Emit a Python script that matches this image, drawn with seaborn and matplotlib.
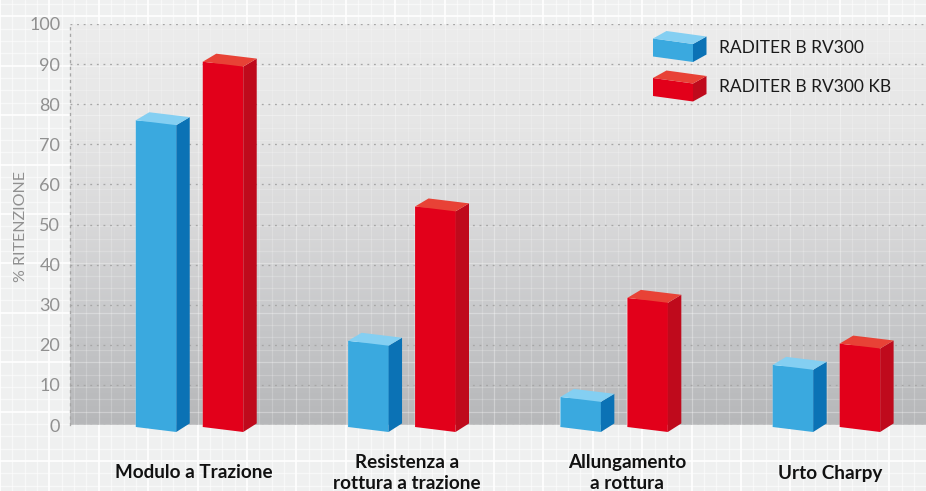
import numpy as np
import pandas as pd
import seaborn as sns
import matplotlib
matplotlib.use('Agg')
import matplotlib.pyplot as plt
from matplotlib.colors import LinearSegmentedColormap
from matplotlib.patches import Polygon

categorie = ['Modulo a Trazione', 'Resistenza a\nrottura a trazione', 'Allungamento\na rottura', 'Urto Charpy']
rv300 = [76, 21, 7, 15]
rv300_kb = [90.6, 54.5, 31.7, 20.3]
serie = ['RADITER B RV300', 'RADITER B RV300 KB']
y_ticks = list(range(0, 101, 10))
asse_y = '% RITENZIONE'

W, H = 926, 491
X0, Y0 = 70, 425      # pixel dell'origine
PX_CAT = 212.3        # pixel tra due categorie
PX_Y = 4.01           # pixel per unita' y
CAT0 = 189.5          # pixel della prima categoria

colori = {
    serie[0]: {'front': '#3aa9df', 'side': '#0b72b5', 'top': '#84cff2'},
    serie[1]: {'front': '#e2001a', 'side': '#bf0a1c', 'top': '#e84236'},
}

df = pd.DataFrame({
    'categoria': categorie * 2,
    'serie': [serie[0]] * 4 + [serie[1]] * 4,
    'valore': rv300 + rv300_kb,
})

sns.set_theme(style='white')
plt.rcParams['font.family'] = ['Lato', 'DejaVu Sans']

fig = plt.figure(figsize=(W / 100, H / 100), dpi=100)

# sfondo: griglia bianca fuori dal grafico, sfumatura grigia dentro
bg = fig.add_axes([0, 0, 1, 1], zorder=0)
bg.axis('off')
bg.add_patch(plt.Rectangle((0, 0), W, H, color='#eff0f0', lw=0))
grad = LinearSegmentedColormap.from_list(
    'grad', ['#ececec', '#e6e6e6', '#d8d8d9', '#c6c7c9', '#b6b7b9'])
img = bg.imshow(np.linspace(0, 1, 256).reshape(-1, 1), cmap=grad, aspect='auto',
                extent=[X0, W, Y0, 24], zorder=2)
bg.set_xlim(0, W)
bg.set_ylim(H, 0)
zona = plt.Rectangle((X0, 24), W - X0, Y0 - 24, transform=bg.transData, fc='none', ec='none')
bg.add_patch(zona)
griglia_x = np.arange(0, W, 12.35)
griglia_y = np.arange(4, H, 12.35)
for i, x in enumerate(griglia_x):
    forte = i % 4 == 0
    bg.axvline(x, color='white', lw=1.3 if forte else 0.9, alpha=0.9 if forte else 0.55, zorder=1)
    l = bg.axvline(x, color='white', lw=0.9, alpha=0.32 if forte else 0.2, zorder=3)
    l.set_clip_path(zona)
for i, y in enumerate(griglia_y):
    forte = i % 4 == 1
    bg.axhline(y, color='white', lw=1.3 if forte else 0.9, alpha=0.9 if forte else 0.55, zorder=1)
    l = bg.axhline(y, color='white', lw=0.9, alpha=0.32 if forte else 0.2, zorder=3)
    l.set_clip_path(zona)

# grafico
ax = fig.add_axes([X0 / W, (H - Y0) / H, (W - X0) / W, 401 / H], zorder=1)
ax.patch.set_alpha(0)
sns.barplot(data=df, x='categoria', y='valore', hue='serie', hue_order=serie,
            palette=[colori[s]['front'] for s in serie], order=categorie,
            width=0.631, gap=0.396, saturation=1, legend=False, ax=ax, zorder=3)
ax.set_xlim((X0 - CAT0) / PX_CAT, (W - CAT0) / PX_CAT)
ax.set_ylim(0, 100)

DX = 1 / PX_CAT
DY = 1 / PX_Y


def solido(patch, col):
    x0, x1 = patch.get_x(), patch.get_x() + patch.get_width()
    h = patch.get_height()
    lean = 4.9 * DY
    ox, oy = 13.5 * DX, 8 * DY
    facce = [
        ('front', [(x0, h), (x1, h - lean), (x1, -7 * DY), (x0, -2 * DY)]),
        ('side', [(x1, h - lean), (x1 + ox, h - lean + oy), (x1 + ox, 0.4), (x1, -7 * DY)]),
        ('top', [(x0, h), (x0 + ox, h + oy), (x1 + ox, h - lean + oy), (x1, h - lean)]),
    ]
    for nome, pts in facce:
        ax.add_patch(Polygon(pts, closed=True, fc=col[nome], ec='none', zorder=4, clip_on=False))


barre = [p for p in ax.patches]
for k, p in enumerate(barre):
    solido(p, colori[serie[k // 4]])

# griglia tratteggiata
punti = (0, (1.4, 3.6))
ax.set_axisbelow(True)
ax.yaxis.grid(True, color='#a6a6a6', lw=0.95, linestyle=punti)
ax.xaxis.grid(False)
for s in ['top', 'right', 'bottom']:
    ax.spines[s].set_visible(False)
ax.spines['left'].set_color('#a6a6a6')
ax.spines['left'].set_linewidth(0.95)
ax.spines['left'].set_linestyle(punti)

ax.set_yticks(y_ticks)
ax.tick_params(axis='y', length=0, pad=7, labelsize=13, labelcolor='#909090')
ax.set_ylabel(asse_y, color='#909090', fontsize=11.5)
ax.yaxis.set_label_coords(-42 / (W - X0), 0.496)

ax.set_xlabel('')
ax.set_xticks([0.021, 1.025, 2.06, 3.017], categorie)
ax.tick_params(axis='x', length=0, pad=0, labelsize=13.6, labelcolor='#111111')
for lab in ax.get_xticklabels():
    lab.set_fontweight('bold')
    lab.set_linespacing(1.3)
    lab.set_verticalalignment('center')
    lab.set_y(-48 / 401)

# legenda con scatoline 3D
leg = fig.add_axes([0, 0, 1, 1], zorder=2)
leg.set_xlim(0, W)
leg.set_ylim(H, 0)
leg.axis('off')
for nome, ytop in zip(serie, [38.5, 78]):
    col = colori[nome]
    lx0, lx1, ox, oy, alt, lean = 653, 693, 13.5, 7.5, 18, 5.5
    leg.add_patch(Polygon([(lx0, ytop), (lx1, ytop + lean), (lx1, ytop + lean + alt), (lx0, ytop + alt)], fc=col['front'], ec='none'))
    leg.add_patch(Polygon([(lx1, ytop + lean), (lx1 + ox, ytop + lean - oy), (lx1 + ox, ytop + lean - oy + alt), (lx1, ytop + lean + alt)], fc=col['side'], ec='none'))
    leg.add_patch(Polygon([(lx0, ytop), (lx0 + ox, ytop - oy), (lx1 + ox, ytop + lean - oy), (lx1, ytop + lean)], fc=col['top'], ec='none'))
    leg.text(719, ytop + 9, nome, fontsize=12.5, color='#1a1a1a', va='center', ha='left')

fig.savefig('out.png', dpi=100)
